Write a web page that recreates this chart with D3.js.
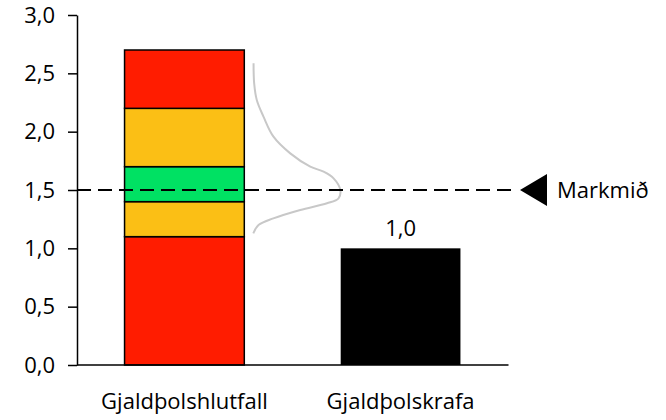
<!DOCTYPE html>
<html>
<head>
<meta charset="utf-8">
<script src="https://cdn.jsdelivr.net/npm/d3@7"></script>
<style>
  body { margin: 0; background: #fff; }
  svg text { font-family: "Open Sans", sans-serif; fill: #000; }
</style>
</head>
<body>
<div id="container"></div>
<script>
// data
const categories = ["Gjaldþolshlutfall", "Gjaldþolskrafa"];
const bandEdges = [0, 1.1, 1.4, 1.7, 2.2, 2.7];           // stacked bands on first bar
const bandColors = ["#ff1c00", "#fbbf15", "#00e163", "#fbbf15", "#ff1c00"];
const requirement = 1.0;                                     // second bar
const target = 1.5;                                          // dashed line
const targetLabel = "Markmið";
const yTicks = [0, 0.5, 1, 1.5, 2, 2.5, 3];
// distribution curve: [ratio, relative density]
const curveValues = [2.586, 2.414, 2.271, 2.129, 1.957, 1.814, 1.700, 1.657, 1.600, 1.500, 1.429, 1.386, 1.329, 1.257, 1.200, 1.129];
const curveDensity = [0.003, 0.01, 0.04, 0.117, 0.232, 0.425, 0.655, 0.808, 0.923, 1.0, 0.98, 0.847, 0.54, 0.23, 0.06, 0.0];

const width = 666, height = 420;
const margin = { top: 15, right: 158, bottom: 55, left: 77 };
const fontSize = "22px";
const fmt = d => d3.format(".1f")(d).replace(".", ",");

const svg = d3.select("#container")
    .append("svg")
    .attr("width", width)
    .attr("height", height);

const y = d3.scaleLinear()
    .domain([0, 3])
    .range([height - margin.bottom, margin.top]);

const x = d3.scaleBand()
    .domain(categories)
    .range([margin.left, width - margin.right])
    .paddingInner(0.446)
    .paddingOuter(0.22);

// stacked bar
const segs = bandColors.map((c, i) => ({ y0: bandEdges[i], y1: bandEdges[i + 1], color: c }));
svg.selectAll("rect.seg")
    .data(segs)
    .enter().append("rect")
    .attr("class", "seg")
    .attr("x", x(categories[0]))
    .attr("width", x.bandwidth())
    .attr("y", d => y(d.y1))
    .attr("height", d => y(d.y0) - y(d.y1))
    .attr("fill", d => d.color)
    .attr("stroke", "#000")
    .attr("stroke-width", 1.5);

// requirement bar
svg.append("rect")
    .attr("x", x(categories[1]))
    .attr("width", x.bandwidth())
    .attr("y", y(requirement))
    .attr("height", y(0) - y(requirement))
    .attr("fill", "#000");

svg.append("text")
    .attr("x", x(categories[1]) + x.bandwidth() / 2)
    .attr("y", y(requirement) - 12)
    .attr("text-anchor", "middle")
    .style("font-size", fontSize)
    .text(fmt(requirement));

// distribution curve
const dx = d3.scaleLinear()
    .domain([0, 1])
    .range([x(categories[0]) + x.bandwidth() + 9, x(categories[0]) + x.bandwidth() + 96]);

svg.append("path")
    .datum(curveValues.map((v, i) => [v, curveDensity[i]]))
    .attr("fill", "none")
    .attr("stroke", "#c8c8c8")
    .attr("stroke-width", 2)
    .attr("d", d3.line()
        .x(d => dx(d[1]))
        .y(d => y(d[0]))
        .curve(d3.curveCatmullRom));

// target line
const lineEnd = width - margin.right + 7;
svg.append("line")
    .attr("x1", margin.left)
    .attr("x2", lineEnd)
    .attr("y1", y(target))
    .attr("y2", y(target))
    .attr("stroke", "#000")
    .attr("stroke-width", 2)
    .attr("stroke-dasharray", "14,7");

const tipX = lineEnd + 5;
svg.append("path")
    .attr("d", d3.line()([[tipX, y(target)], [tipX + 27, y(target) - 16], [tipX + 27, y(target) + 16]]) + "Z")
    .attr("fill", "#000");

svg.append("text")
    .attr("x", tipX + 37)
    .attr("y", y(target))
    .attr("dy", "0.35em")
    .style("font-size", fontSize)
    .text(targetLabel);

// y axis
const yAxis = svg.append("g")
    .attr("transform", `translate(${margin.left},0)`)
    .call(d3.axisLeft(y).tickValues(yTicks).tickFormat(fmt).tickSize(9).tickSizeOuter(0).tickPadding(13));
yAxis.select(".domain").attr("stroke-width", 1.5);
yAxis.selectAll(".tick line").attr("stroke-width", 1.5);
yAxis.selectAll("text").style("font-size", fontSize).attr("fill", "#000");

// x axis
const xAxis = svg.append("g")
    .attr("transform", `translate(0,${y(0)})`)
    .call(d3.axisBottom(x).tickSize(0).tickPadding(28));
xAxis.select(".domain").attr("stroke-width", 1.5)
    .attr("d", `M${margin.left},0H${width - margin.right + 0.5}`);
xAxis.selectAll("text").style("font-size", fontSize).attr("fill", "#000");
</script>
</body>
</html>
